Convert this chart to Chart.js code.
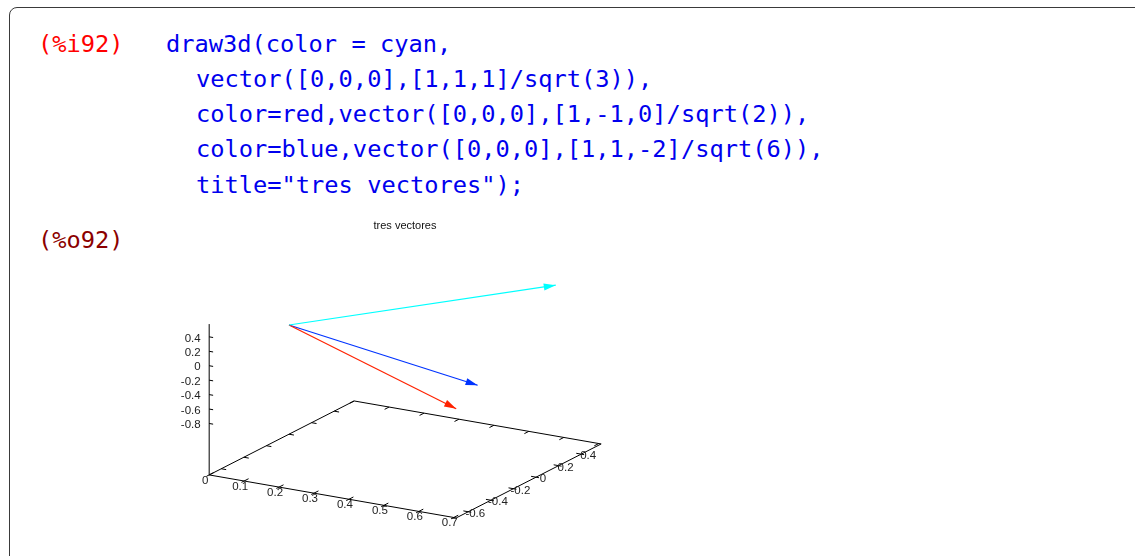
<!DOCTYPE html>
<html>
<head>
<meta charset="utf-8">
<script src="https://cdn.jsdelivr.net/npm/chart.js@4/dist/chart.umd.min.js"></script>
<style>
  html, body { margin:0; padding:0; background:#fff; width:1135px; height:556px; overflow:hidden; }
  #cell { position:absolute; left:9px; top:7px; width:1200px; height:620px;
          border:1.5px solid #3a3a3a; border-radius:8px; box-sizing:border-box; }
  .code { position:absolute; font-family:"DejaVu Sans Mono", monospace; font-size:23.7px;
          line-height:35px; white-space:pre; color:#0000ee; }
  .lbl-in { color:#ff0000; }
  .lbl-out { color:#8b0000; }
  #chartWrap { position:absolute; left:0; top:0; width:1135px; height:556px; }
</style>
</head>
<body>
<div id="cell"></div>
<div class="code lbl-in" style="left:38px; top:27px;">(%i92)</div>
<div class="code" style="left:166px; top:27px;">draw3d(color = cyan,</div>
<div class="code" style="left:196px; top:62px;">vector([0,0,0],[1,1,1]/sqrt(3)),</div>
<div class="code" style="left:196px; top:97px;">color=red,vector([0,0,0],[1,-1,0]/sqrt(2)),</div>
<div class="code" style="left:196px; top:132px;">color=blue,vector([0,0,0],[1,1,-2]/sqrt(6)),</div>
<div class="code" style="left:196px; top:168px;">title="tres vectores");</div>
<div class="code lbl-out" style="left:38px; top:223px;">(%o92)</div>
<div id="chartWrap"><canvas id="c" width="1135" height="556"></canvas></div>
<script>
// ---- data ----
const plotTitle = "tres vectores";
const vectorColors = ["#00ffff", "#ff2200", "#0033ff"];
const vectorOrigin = [0, 0, 0];
const vecCyan = [0.577, 0.577, 0.577];
const vecRed  = [0.707, -0.707, 0];
const vecBlue = [0.408, 0.408, -0.816];
const xRange = [0, 0.707];
const yRange = [-0.707, 0.577];
const zRange = [-0.816, 0.577];
const xTicks = [0, 0.1, 0.2, 0.3, 0.4, 0.5, 0.6, 0.7];
const yTicks = [-0.6, -0.4, -0.2, 0, 0.2, 0.4];
const zTicks = [-0.8, -0.6, -0.4, -0.2, 0, 0.2, 0.4];
const xTickLabels = ["0", "0.1", "0.2", "0.3", "0.4", "0.5", "0.6", "0.7"];
const yTickLabels = ["-0.6", "-0.4", "-0.2", "0", "0.2", "0.4"];
const zTickLabels = ["-0.8", "-0.6", "-0.4", "-0.2", "0", "0.2", "0.4"];

// ---- view (gnuplot-like 60/30 projection, screen units) ----
const VIEW = { o:[289, 325], ux:[349.4, 60.8], uy:[112.9, -57.6], uz:[0, -72.2], ticslevel:0.5 };
const zBase = zRange[0] - VIEW.ticslevel * (zRange[1] - zRange[0]);
function proj(p) {
  return { x: VIEW.o[0] + p[0]*VIEW.ux[0] + p[1]*VIEW.uy[0] + p[2]*VIEW.uz[0],
           y: VIEW.o[1] + p[0]*VIEW.ux[1] + p[1]*VIEW.uy[1] + p[2]*VIEW.uz[1] };
}
function unit(v){ const l = Math.hypot(v[0], v[1]); return [v[0]/l, v[1]/l]; }
const GAP = {x:null, y:null};

// base box
const A = [xRange[0], yRange[0], zBase], B = [xRange[1], yRange[0], zBase];
const C = [xRange[1], yRange[1], zBase], D = [xRange[0], yRange[1], zBase];
const boxData = [A, B, C, D, A].map(proj);
const zAxisData = [A, [xRange[0], yRange[0], zRange[1]]].map(proj);

// ticks
function tickSeg(p3, dir, inLen, outLen) {
  const p = proj(p3);
  return [{x:p.x - dir[0]*outLen, y:p.y - dir[1]*outLen}, {x:p.x + dir[0]*inLen, y:p.y + dir[1]*inLen}, GAP];
}
const dUy = unit(VIEW.uy), dUx = unit(VIEW.ux);
const tickData = [];
xTicks.forEach(v => {
  tickData.push(...tickSeg([v, yRange[0], zBase], dUy, 5, 3));
  tickData.push(...tickSeg([v, yRange[1], zBase], [-dUy[0], -dUy[1]], 5, 0));
});
yTicks.forEach(v => {
  tickData.push(...tickSeg([xRange[1], v, zBase], [-dUx[0], -dUx[1]], 5, 3));
  tickData.push(...tickSeg([xRange[0], v, zBase], dUx, 5, 0));
});
zTicks.forEach(v => {
  tickData.push(...tickSeg([xRange[0], yRange[0], v], dUx, 4, 0));
});

const vectors = [vecCyan, vecRed, vecBlue];
const vectorDatasets = vectors.map((v, i) => ({
  data: [vectorOrigin, v].map(proj),
  borderColor: vectorColors[i], backgroundColor: vectorColors[i],
  borderWidth: 1.2, showLine: true, pointRadius: 0, order: 0
}));

// arrowheads + labels plugin
const gnuplotDecor = {
  id: 'gnuplotDecor',
  afterDatasetsDraw(chart) {
    const ctx = chart.ctx, xs = chart.scales.x, ys = chart.scales.y;
    const px = p => ({x: xs.getPixelForValue(p.x), y: ys.getPixelForValue(p.y)});
    ctx.save();
    // arrowheads
    vectors.forEach((v, i) => {
      const s = px(proj(vectorOrigin)), e = px(proj(v));
      const ang = Math.atan2(e.y - s.y, e.x - s.x);
      const L = 12, W = 3.6;
      const bx = e.x - L*Math.cos(ang), by = e.y - L*Math.sin(ang);
      ctx.fillStyle = vectorColors[i];
      ctx.beginPath();
      ctx.moveTo(e.x, e.y);
      ctx.lineTo(bx - W*Math.sin(ang), by + W*Math.cos(ang));
      ctx.lineTo(bx + W*Math.sin(ang), by - W*Math.cos(ang));
      ctx.closePath();
      ctx.fill();
    });
    // tick labels
    ctx.fillStyle = '#222';
    ctx.font = '11.5px "Liberation Sans", Arial, sans-serif';
    ctx.textBaseline = 'middle';
    ctx.textAlign = 'center';
    xTicks.forEach((v, i) => {
      const p = px(proj([v, yRange[0], zBase]));
      ctx.fillText(xTickLabels[i], p.x - 4, p.y + 5.5);
    });
    yTicks.forEach((v, i) => {
      const p = px(proj([xRange[1], v, zBase]));
      ctx.fillText(yTickLabels[i], p.x + 7, p.y + 2);
    });
    ctx.textAlign = 'right';
    zTicks.forEach((v, i) => {
      const p = px(proj([xRange[0], yRange[0], v]));
      ctx.fillText(zTickLabels[i], p.x - 8.5, p.y + 1.5);
    });
    // title
    ctx.textAlign = 'center';
    ctx.fillStyle = '#111';
    ctx.font = '11px "Liberation Sans", Arial, sans-serif';
    ctx.fillText(plotTitle, xs.getPixelForValue(405), ys.getPixelForValue(226));
    ctx.restore();
  }
};

new Chart(document.getElementById('c'), {
  type: 'scatter',
  data: {
    datasets: [
      { data: boxData, borderColor: '#000', borderWidth: 1, showLine: true, pointRadius: 0, order: 2 },
      { data: zAxisData, borderColor: '#000', borderWidth: 1, showLine: true, pointRadius: 0, order: 2 },
      { data: tickData, borderColor: '#000', borderWidth: 1, showLine: true, spanGaps: false, pointRadius: 0, order: 2 },
      ...vectorDatasets
    ]
  },
  options: {
    responsive: false, animation: false, devicePixelRatio: 1,
    layout: { padding: 0 },
    scales: {
      x: { type: 'linear', min: 0, max: 1135, display: false },
      y: { type: 'linear', min: 0, max: 556, reverse: true, display: false }
    },
    plugins: { legend: { display: false }, tooltip: { enabled: false }, title: { display: false } },
    events: []
  },
  plugins: [gnuplotDecor]
});
</script>
</body>
</html>
